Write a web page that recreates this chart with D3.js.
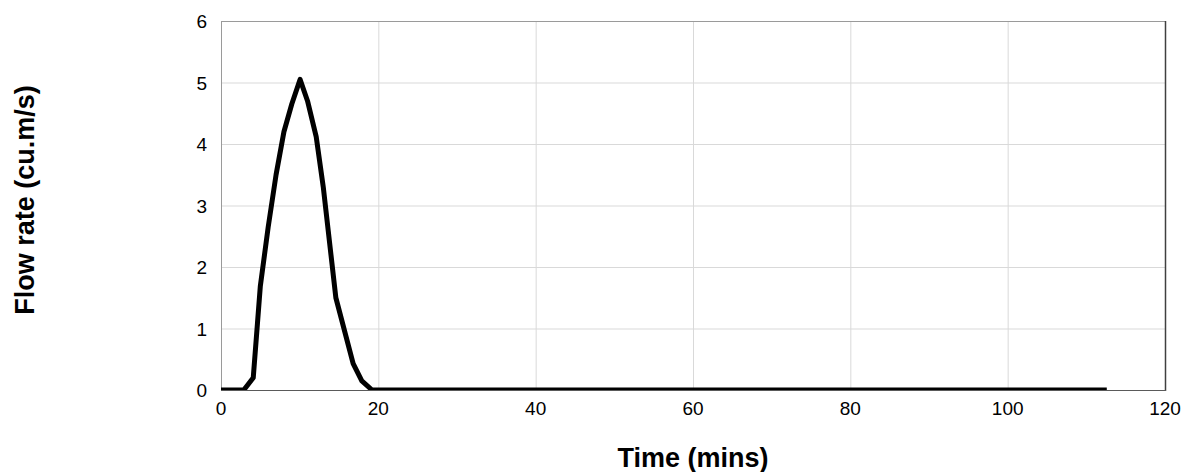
<!DOCTYPE html>
<html>
<head>
<meta charset="utf-8">
<script src="https://cdn.jsdelivr.net/npm/d3@7"></script>
<style>
  body { margin: 0; background: #fff; }
  svg { display: block; font-family: "Liberation Sans", Arial, sans-serif; }
</style>
</head>
<body>
<svg id="chart" width="1196" height="472"></svg>
<script>
// hydrograph: time in minutes, flow in cu.m/s
const times = [0, 2.9, 4.1, 5.0, 6.0, 7.0, 8.0, 9.0, 10.05, 11.0, 12.1, 13.0, 14.6, 16.8, 17.9, 19.2, 112.6];
const flows = [0, 0, 0.2, 1.69, 2.65, 3.5, 4.2, 4.65, 5.05, 4.7, 4.12, 3.3, 1.5, 0.43, 0.15, 0, 0];
const xTicks = [0, 20, 40, 60, 80, 100, 120];
const yTicks = [0, 1, 2, 3, 4, 5, 6];

const svg = d3.select('#chart');
const plotLeft = 221, plotRight = 1165, plotTop = 21, plotBottom = 390;

const x = d3.scaleLinear().domain([0, 120]).range([plotLeft, plotRight]);
const y = d3.scaleLinear().domain([0, 6]).range([plotBottom, plotTop]);

// clip marks to the plot area, like the spreadsheet does
svg.append('clipPath').attr('id', 'plot-clip')
  .append('rect')
  .attr('x', plotLeft).attr('y', plotTop)
  .attr('width', plotRight - plotLeft).attr('height', plotBottom - plotTop);

// grid
svg.append('g')
  .attr('transform', `translate(0,${plotBottom})`)
  .call(d3.axisBottom(x).tickValues(xTicks.slice(1, -1)).tickSize(-(plotBottom - plotTop)).tickFormat(''))
  .call(g => g.select('.domain').remove())
  .selectAll('line').attr('stroke', '#d9d9d9');

svg.append('g')
  .attr('transform', `translate(${plotLeft},0)`)
  .call(d3.axisLeft(y).tickValues(yTicks.slice(1, -1)).tickSize(-(plotRight - plotLeft)).tickFormat(''))
  .call(g => g.select('.domain').remove())
  .selectAll('line').attr('stroke', '#d9d9d9');

// plot frame
svg.append('line').attr('x1', plotLeft).attr('x2', plotRight).attr('y1', plotTop + 0.5).attr('y2', plotTop + 0.5)
  .attr('stroke', '#9a9a9a');
svg.append('line').attr('x1', plotLeft + 0.5).attr('x2', plotLeft + 0.5).attr('y1', plotTop).attr('y2', plotBottom)
  .attr('stroke', '#9a9a9a');
svg.append('line').attr('x1', plotRight + 0.5).attr('x2', plotRight + 0.5).attr('y1', plotTop).attr('y2', plotBottom + 1)
  .attr('stroke', '#404040').attr('stroke-width', 1.5);
svg.append('line').attr('x1', plotLeft).attr('x2', plotRight + 1).attr('y1', plotBottom + 0.5).attr('y2', plotBottom + 0.5)
  .attr('stroke', '#5a5a5a');

// the hydrograph
const points = times.map((t, i) => [t, flows[i]]);
svg.append('path')
  .datum(points)
  .attr('clip-path', 'url(#plot-clip)')
  .attr('fill', 'none')
  .attr('stroke', '#000')
  .attr('stroke-width', 5)
  .attr('stroke-linejoin', 'round')
  .attr('d', d3.line().x(d => x(d[0])).y(d => y(d[1])));

// tick labels
svg.append('g')
  .selectAll('text')
  .data(xTicks)
  .join('text')
  .attr('x', d => x(d))
  .attr('y', plotBottom + 25)
  .attr('text-anchor', 'middle')
  .attr('font-size', 19)
  .text(d => d);

svg.append('g')
  .selectAll('text')
  .data(yTicks)
  .join('text')
  .attr('x', plotLeft - 14)
  .attr('y', d => y(d) + 7)
  .attr('text-anchor', 'end')
  .attr('font-size', 19)
  .text(d => d);

// axis titles
svg.append('text')
  .attr('x', (plotLeft + plotRight) / 2)
  .attr('y', 467)
  .attr('text-anchor', 'middle')
  .attr('font-size', 27)
  .attr('font-weight', 'bold')
  .text('Time (mins)');

svg.append('text')
  .attr('transform', `translate(34,200) rotate(-90)`)
  .attr('text-anchor', 'middle')
  .attr('font-size', 27)
  .attr('font-weight', 'bold')
  .text('Flow rate (cu.m/s)');
</script>
</body>
</html>
